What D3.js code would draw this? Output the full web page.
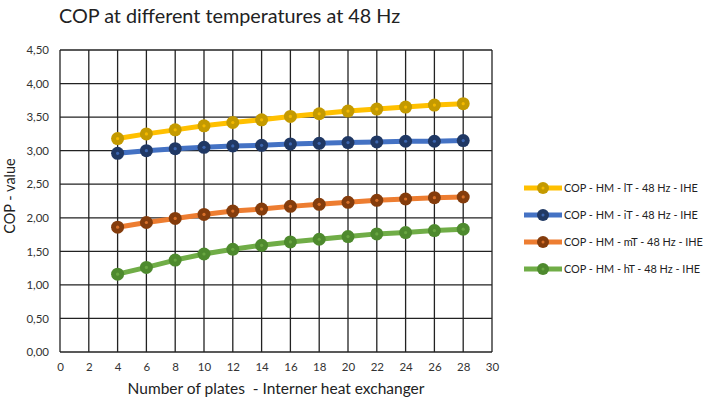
<!DOCTYPE html>
<html>
<head>
<meta charset="utf-8">
<script src="https://cdn.jsdelivr.net/npm/d3@7"></script>
<style>
  body { margin: 0; background: #fff; }
  svg { display: block; font-family: Lato, "Open Sans", sans-serif; }
</style>
</head>
<body>
<div class="chart"></div>
<script>
// plates
var plates = [4, 6, 8, 10, 12, 14, 16, 18, 20, 22, 24, 26, 28];

var seriesNames = [
  'COP - HM - lT - 48 Hz - IHE',
  'COP - HM - iT - 48 Hz - IHE',
  'COP - HM - mT - 48 Hz - IHE',
  'COP - HM - hT - 48 Hz - IHE'
];

var copLT = [3.18, 3.25, 3.31, 3.37, 3.42, 3.46, 3.51, 3.55, 3.59, 3.62, 3.65, 3.68, 3.70];
var copIT = [2.96, 3.00, 3.03, 3.05, 3.07, 3.08, 3.10, 3.11, 3.12, 3.13, 3.14, 3.14, 3.15];
var copMT = [1.86, 1.93, 1.99, 2.05, 2.10, 2.13, 2.17, 2.20, 2.23, 2.26, 2.28, 2.30, 2.31];
var copHT = [1.16, 1.26, 1.37, 1.46, 1.53, 1.59, 1.64, 1.68, 1.72, 1.76, 1.78, 1.81, 1.83];

var xTicks = d3.range(0, 31, 2);
var yTicks = d3.range(0, 4.51, 0.5);

var lineColors = ['#FFC000', '#4472C4', '#ED7D31', '#70AD47'];
var dotColors = ['#C49A00', '#203864', '#843C0C', '#4E8A2E'];

var W = 706, H = 400;
var margin = {top: 50, right: 214, bottom: 48, left: 60};
var width = W - margin.left - margin.right;
var height = H - margin.top - margin.bottom;

var svg = d3.select('.chart')
  .append('svg')
  .attr('width', W)
  .attr('height', H);

svg.append('text')
  .attr('x', 59)
  .attr('y', 23)
  .attr('font-size', 19.8)
  .attr('fill', '#222')
  .text('COP at different temperatures at 48 Hz');

var g = svg.append('g')
  .attr('transform', 'translate(' + margin.left + ',' + margin.top + ')');

var xScale = d3.scaleLinear().domain([0, 30]).range([0, width]);
var yScale = d3.scaleLinear().domain([0, 4.5]).range([height, 0]);

// grid
g.selectAll('.vgrid')
  .data(xTicks)
  .enter()
  .append('line')
  .attr('x1', function(d) { return xScale(d); })
  .attr('x2', function(d) { return xScale(d); })
  .attr('y1', 0)
  .attr('y2', height)
  .attr('stroke', '#222')
  .attr('stroke-width', 1.3);

g.selectAll('.hgrid')
  .data(yTicks)
  .enter()
  .append('line')
  .attr('y1', function(d) { return yScale(d); })
  .attr('y2', function(d) { return yScale(d); })
  .attr('x1', 0)
  .attr('x2', width)
  .attr('stroke', '#222')
  .attr('stroke-width', 1.3);

// axes (labels only)
var xAxis = d3.axisBottom(xScale)
  .tickValues(xTicks)
  .tickSize(0)
  .tickPadding(11)
  .tickFormat(d3.format('d'));

var yAxis = d3.axisLeft(yScale)
  .tickValues(yTicks)
  .tickSize(0)
  .tickPadding(11)
  .tickFormat(function(d) { return d.toFixed(2).replace('.', ','); });

var gx = g.append('g')
  .attr('transform', 'translate(0,' + height + ')')
  .call(xAxis);
var gy = g.append('g').call(yAxis);

[gx, gy].forEach(function(a) {
  a.select('.domain').remove();
  a.selectAll('text')
    .attr('font-size', 11.5)
    .attr('fill', '#333')
    .style('font-family', 'Lato, "Open Sans", sans-serif');
});

svg.append('text')
  .attr('x', margin.left + width / 2)
  .attr('y', 394)
  .attr('text-anchor', 'middle')
  .attr('font-size', 15.5)
  .attr('fill', '#222')
  .style('white-space', 'pre')
  .text('Number of plates  - Interner heat exchanger');

svg.append('text')
  .attr('transform', 'translate(15,' + (margin.top + height / 2 - 5) + ') rotate(-90)')
  .attr('text-anchor', 'middle')
  .attr('font-size', 14.5)
  .attr('fill', '#222')
  .text('COP - value');

// series
var data = [copLT, copIT, copMT, copHT].map(function(vals, i) {
  return {
    name: seriesNames[i],
    values: vals.map(function(v, j) { return {x: plates[j], y: v}; })
  };
});

var line = d3.line()
  .x(function(d) { return xScale(d.x); })
  .y(function(d) { return yScale(d.y); });

var sg = g.selectAll('.series')
  .data(data)
  .enter()
  .append('g')
  .attr('class', 'series');

sg.append('path')
  .attr('d', function(d) { return line(d.values); })
  .attr('fill', 'none')
  .attr('stroke', function(d, i) { return lineColors[i]; })
  .attr('stroke-width', 5)
  .attr('stroke-linejoin', 'round');

sg.each(function(d, i) {
  var s = d3.select(this);
  s.selectAll('circle.m')
    .data(d.values)
    .enter()
    .append('circle')
    .attr('cx', function(p) { return xScale(p.x); })
    .attr('cy', function(p) { return yScale(p.y); })
    .attr('r', 6.5)
    .attr('fill', dotColors[i]);
  s.selectAll('circle.c')
    .data(d.values)
    .enter()
    .append('circle')
    .attr('cx', function(p) { return xScale(p.x); })
    .attr('cy', function(p) { return yScale(p.y); })
    .attr('r', 1.6)
    .attr('fill', lineColors[i])
    .attr('opacity', 0.8);
});

// legend
var lg = svg.selectAll('.leg')
  .data(data)
  .enter()
  .append('g')
  .attr('transform', function(d, i) { return 'translate(524,' + (188 + i * 27) + ')'; });

lg.append('line')
  .attr('x1', 0).attr('x2', 38)
  .attr('stroke', function(d, i) { return lineColors[i]; })
  .attr('stroke-width', 5);
lg.append('circle')
  .attr('cx', 19).attr('r', 6)
  .attr('fill', function(d, i) { return dotColors[i]; });
lg.append('circle')
  .attr('cx', 19).attr('r', 1.5)
  .attr('fill', function(d, i) { return lineColors[i]; })
  .attr('opacity', 0.8);
lg.append('text')
  .attr('x', 40)
  .attr('dy', '0.35em')
  .attr('font-size', 10.9)
  .attr('fill', '#222')
  .text(function(d) { return d.name; });
</script>
</body>
</html>
